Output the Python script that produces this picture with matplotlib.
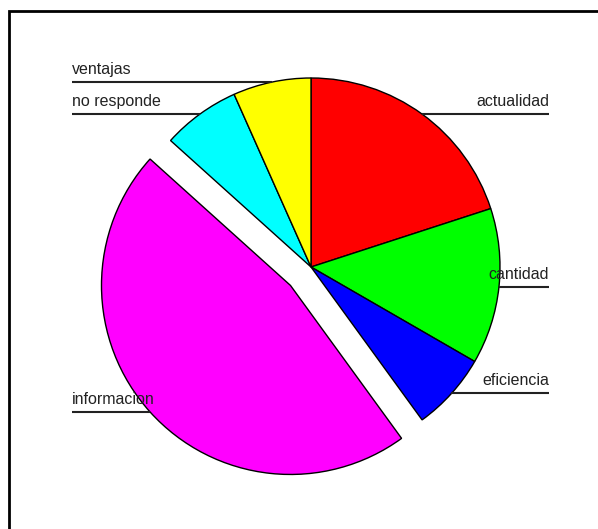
import matplotlib.pyplot as plt
import numpy as np
from matplotlib.patches import Rectangle

# data (counts)
labels = ["actualidad", "cantidad", "eficiencia", "informacion", "no responde", "ventajas"]
counts = [3, 2, 1, 7, 1, 1]
colors = ["#ff0000", "#00ff00", "#0000ff", "#ff00ff", "#00ffff", "#ffff00"]
explode_frac = [0, 0, 0, 0.146, 0, 0]

W, H = 598, 529
fig = plt.figure(figsize=(W / 100, H / 100), dpi=100)
ax = fig.add_axes([0, 0, 1, 1])

cx, cy, r = 311, H - 267, 189
# matplotlib's explode is in data units, so scale by the radius
wedges, _ = ax.pie(counts, colors=colors, explode=[e * r for e in explode_frac],
                   startangle=90, counterclock=False, radius=r, center=(cx, cy),
                   wedgeprops=dict(edgecolor="black", linewidth=1.0))

# labels with horizontal leader lines
for w, lab in zip(wedges, labels):
    mid = np.deg2rad((w.theta1 + w.theta2) / 2)
    px = w.center[0] + r * np.cos(mid)
    py = w.center[1] + r * np.sin(mid)
    if np.cos(mid) >= 0:
        xe, ha = 549, "right"
    else:
        xe, ha = 72, "left"
    ax.plot([px, xe], [py, py], color="#222222", lw=1.5, solid_capstyle="butt")
    ax.text(xe, py + 8, lab, ha=ha, va="baseline", fontsize=11.5,
            family="Liberation Sans", color="#222222")

# frame box (runs off the right and bottom)
ax.add_patch(Rectangle((9, -20), W + 20, H - 11 + 20, fill=False,
                       edgecolor="black", lw=2, clip_on=False))

ax.set_xlim(0, W)
ax.set_ylim(0, H)
ax.set_aspect("auto")
ax.axis("off")

fig.savefig("out.png", dpi=100)
